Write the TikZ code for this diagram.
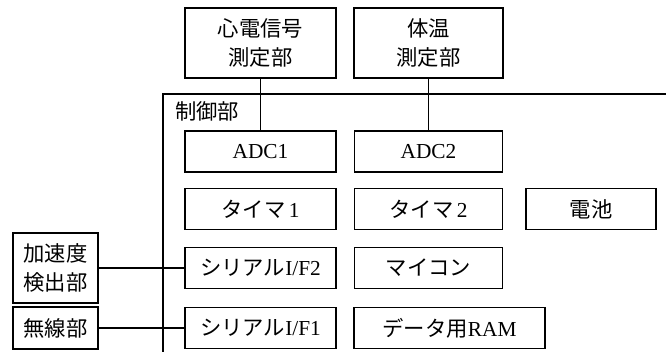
\documentclass[tikz,border=0pt]{standalone}
\usepackage{fontspec}
\setmainfont{Liberation Serif}
\newfontfamily\jpfont{Noto Sans CJK JP}
\usetikzlibrary{positioning}

\begin{document}
\begin{tikzpicture}[
  x=0.75pt, y=-0.75pt,
  every node/.style={font=\fontsize{16}{22}\selectfont, inner sep=0pt},
  jp/.style={font=\jpfont\fontsize{16}{22}\selectfont},
  block/.style={draw, line width=1.3pt, align=center, minimum height=30.75pt},
  tallblock/.style={block, minimum height=52.5pt},
  wire/.style={draw, line width=1.3pt}
]
\useasboundingbox (0,0) rectangle (666,352);

% controller frame, open to the right and below
\draw[line width=1.3pt] (163,360) |- (670,94);
\node[jp] (ctrl) at (207,111) {制御部};

% sensor units
\node[tallblock, jp, minimum width=113pt] (ecg) at (260.5,43) {心電信号\\測定部};
\node[tallblock, jp, minimum width=111.5pt] (temp) at (428.5,43) {体温\\測定部};
\node[tallblock, jp, minimum width=63.75pt] (accel) at (55.5,268) {加速度\\検出部};
\node[block, jp, minimum width=63.75pt, minimum height=31.5pt] (radio) at (55.5,328) {無線部};

% inside the controller
\node[block, minimum width=113pt] (adc1) at (260.5,151.5) {ADC1};
\node[block, minimum width=111pt] (adc2) at (428.5,151.5) {ADC2};
\node[block, minimum width=113pt] (tim1) at (260.5,209) {{\jpfont タイマ}\,1};
\node[block, minimum width=111pt] (tim2) at (428.5,209) {{\jpfont タイマ}\,2};
\node[block, jp, minimum width=97.5pt] (batt) at (591,209) {電池};
\node[block, minimum width=113pt] (ser2) at (260.5,268) {{\jpfont シリアル}I/F2};
\node[block, jp, minimum width=111pt] (mcu) at (428.5,268) {マイコン};
\node[block, minimum width=113pt] (ser1) at (260.5,328) {{\jpfont シリアル}I/F1};
\node[block, minimum width=143.25pt] (ram) at (449.5,328) {{\jpfont データ用}RAM};

% connections
\draw[wire] (ecg) -- (adc1);
\draw[wire] (temp) -- (adc2);
\draw[wire] (accel) -- (ser2);
\draw[wire] (radio) -- (ser1);
\end{tikzpicture}
\end{document}
